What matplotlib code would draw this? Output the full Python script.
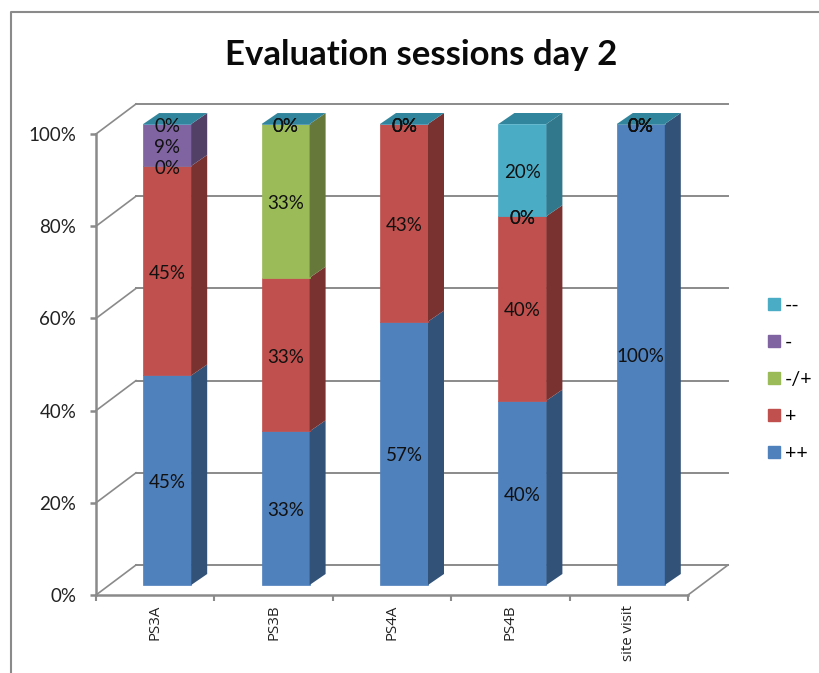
from matplotlib import pyplot as plt
from matplotlib.lines import Line2D
from matplotlib.patches import Patch
import numpy as np

categories = ['PS3A', 'PS3B', 'PS4A', 'PS4B', 'site visit']
series_names = ['++', '+', '-/+', '-', '--']

plus_plus = [45.45, 33.33, 57.14, 40, 100]
plus = [45.45, 33.33, 42.86, 40, 0]
neutral = [0, 33.33, 0, 0, 0]
minus = [9.09, 0, 0, 0, 0]
minus_minus = [0, 0, 0, 20, 0]

series_values = [plus_plus, plus, neutral, minus, minus_minus]
front_colors = ['#4F81BD', '#C0504D', '#9BBB59', '#8064A2', '#4BACC6']
side_colors = ['#325278', '#7A3230', '#66783A', '#524067', '#31788C']
top_color = '#31859C'
grid_color = '#8A8A8A'

W, H = 819, 673
fig = plt.figure(figsize=(W / 100, H / 100), dpi=100)
plt.rcParams['font.family'] = ['Lato', 'DejaVu Sans']

# front plane of the pseudo 3D box
left, right, bottom, top = 96, 688, 595, 134
ax = fig.add_axes([left / W, 1 - bottom / H, (right - left) / W, (bottom - top) / H])
ax.patch.set_alpha(0)
ax.set_xlim(-0.5, 4.5)
ax.set_ylim(0, 100)

# pixels to data units, the depth offsets below are in pixels
xpx = 5 / (right - left)
ypx = 100 / (bottom - top)
wall_dx, wall_dy = 40 * xpx, 30 * ypx
bar_dx, bar_dy = 12 * xpx, 10 * ypx
depth_dx, depth_dy = 16 * xpx, 11 * ypx
bar_w = 48 * xpx

yticks = [0, 20, 40, 60, 80, 100]

# back wall and side wall lines
for t in yticks:
    ax.plot([-0.5 + wall_dx, 4.5 + wall_dx], [t + wall_dy, t + wall_dy],
            color=grid_color, lw=1.4, clip_on=False, zorder=1)
    ax.plot([-0.5, -0.5 + wall_dx], [t, t + wall_dy],
            color=grid_color, lw=1.2, clip_on=False, zorder=1)
# right edge of the floor
ax.plot([4.5, 4.5 + wall_dx], [0, wall_dy], color=grid_color, lw=1.2, clip_on=False, zorder=1)

# stacked columns
x = np.arange(len(categories)) + bar_dx
base = np.zeros(len(categories))
for vals, name, fc, sc in zip(series_values, series_names, front_colors, side_colors):
    vals = np.array(vals)
    ax.bar(x, vals, bar_w, bottom=base + bar_dy, color=fc, edgecolor=fc,
           linewidth=0.5, clip_on=False, zorder=3)
    for xi, b, v in zip(x, base, vals):
        if v > 0:
            xr = xi + bar_w / 2
            y0 = b + bar_dy
            ax.fill([xr, xr + depth_dx, xr + depth_dx, xr],
                    [y0, y0 + depth_dy, y0 + v + depth_dy, y0 + v],
                    color=sc, lw=0, clip_on=False, zorder=3)
        ax.text(xi, b + v / 2 + bar_dy - 2.5 * ypx, f'{v:.0f}%', ha='center', va='center',
                fontsize=13.5, color='#111111', zorder=5, clip_on=False)
    base = base + vals

# top faces of the columns
for xi, b in zip(x, base):
    xl, xr = xi - bar_w / 2, xi + bar_w / 2
    yt = b + bar_dy
    ax.fill([xl, xr, xr + depth_dx, xl + depth_dx], [yt, yt, yt + depth_dy, yt + depth_dy],
            color=top_color, lw=0, clip_on=False, zorder=4)

# axes
for s in ['top', 'right']:
    ax.spines[s].set_visible(False)
for s in ['left', 'bottom']:
    ax.spines[s].set_color(grid_color)
    ax.spines[s].set_linewidth(1.8)
ax.set_yticks(yticks)
ax.set_yticklabels([f'{t}%' for t in yticks], fontsize=13.5, color='#222222')
ax.tick_params(axis='y', length=4.5, width=1.8, color=grid_color, pad=9.7)
ax.set_xticks(np.arange(-0.5, 5))
ax.set_xticklabels([])
ax.tick_params(axis='x', which='major', length=4, width=1.5, color=grid_color)
ax.set_xticks(np.arange(len(categories)), minor=True)
ax.set_xticklabels(categories, minor=True, rotation=90, fontsize=10.8,
                   family=['Open Sans', 'DejaVu Sans'], color='#222222')
ax.tick_params(axis='x', which='minor', length=0, pad=7)

# legend, top entry is the last series
handles = [Patch(facecolor=c, edgecolor=c, label=n)
           for c, n in zip(front_colors[::-1], series_names[::-1])]
ax.legend(handles=handles, loc='center left', bbox_to_anchor=(768 / W, 1 - 379.5 / H),
          bbox_transform=fig.transFigure, frameon=False, fontsize=14,
          handlelength=0.6, handleheight=0.6, handletextpad=0.28, labelspacing=1.03,
          borderpad=0, borderaxespad=0)

fig.text(421 / W, 1 - 55 / H, 'Evaluation sessions day 2', ha='center', va='center',
         fontsize=25, fontweight='bold', color='#0A0A0A')

# outer frame, open on the right and at the bottom
fig.add_artist(Line2D([11 / W, 11 / W, 1], [1 - 672 / H, 1 - 12 / H, 1 - 12 / H],
                      color=grid_color, lw=1.5))

fig.savefig('out.png', dpi=100)
